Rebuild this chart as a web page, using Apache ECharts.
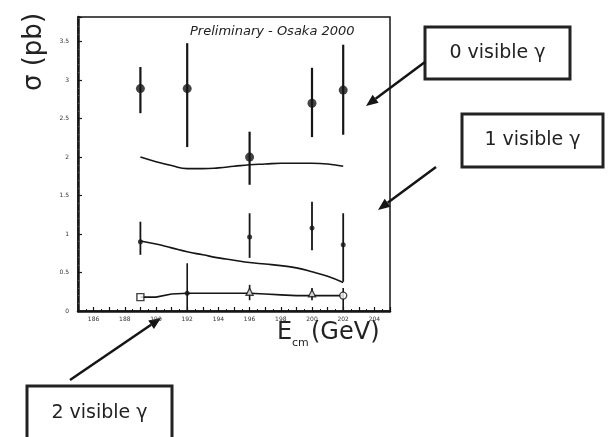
<!DOCTYPE html>
<html>
<head>
<meta charset="utf-8">
<script src="https://cdn.jsdelivr.net/npm/echarts@6/dist/echarts.min.js"></script>
<style>
  html, body { margin: 0; padding: 0; background: #fff; }
  #chart { width: 611px; height: 437px; }
</style>
</head>
<body>
<div id="chart"></div>
<script>
// Centre-of-mass energies (GeV) of the measurements
const energies = [189, 192, 196, 200, 202];

// 0 visible photon: cross section (pb) with lower / upper error ends
const zeroGamma     = [2.89, 2.89, 2.00, 2.70, 2.87];
const zeroGammaLow  = [2.57, 2.13, 1.64, 2.26, 2.29];
const zeroGammaHigh = [3.17, 3.48, 2.33, 3.16, 3.46];

// 1 visible photon
const oneGammaE    = [189, 196, 200, 202];
const oneGamma     = [0.90, 0.96, 1.08, 0.86];
const oneGammaLow  = [0.73, 0.69, 0.79, 0.38];
const oneGammaHigh = [1.16, 1.27, 1.42, 1.27];

// 2 visible photons
const twoGamma     = [0.18, 0.23, 0.25, 0.23, 0.20];
const twoGammaLow  = [0.18, 0.00, 0.14, 0.14, 0.00];
const twoGammaHigh = [0.18, 0.62, 0.34, 0.30, 0.30];

// Standard Model expectation curves
const curveE  = [189, 190, 191, 192, 193, 194, 195, 196, 197, 198, 199, 200, 201, 202];
const curve0  = [2.00, 1.94, 1.89, 1.85, 1.85, 1.86, 1.88, 1.90, 1.91, 1.92, 1.92, 1.92, 1.91, 1.88];
const curve1  = [0.91, 0.87, 0.82, 0.77, 0.73, 0.69, 0.66, 0.63, 0.61, 0.59, 0.56, 0.51, 0.45, 0.37];
const curve2  = [0.18, 0.18, 0.22, 0.23, 0.23, 0.23, 0.23, 0.23, 0.22, 0.21, 0.20, 0.20, 0.20, 0.20];

// Axis tick labels
const xTickLabels = [186, 188, 190, 192, 194, 196, 198, 200, 202, 204];
const yTickLabels = [0, 0.5, 1, 1.5, 2, 2.5, 3, 3.5];

// Marker shapes used for the 2-photon points
const twoGammaMarks = ['rect', 'circle', 'triangle', 'triangle', 'circle'];
const INK = '#151515';

function pairs(xs, ys) { return xs.map((x, i) => [x, ys[i]]); }
function bars(xs, lo, hi) { return xs.map((x, i) => [x, lo[i], hi[i]]); }

function errorSeries(data, width) {
  return {
    type: 'custom',
    data: data,
    z: 3,
    encode: { x: 0, y: [1, 2] },
    renderItem: function (params, api) {
      const a = api.coord([api.value(0), api.value(1)]);
      const b = api.coord([api.value(0), api.value(2)]);
      return {
        type: 'line',
        shape: { x1: a[0], y1: a[1], x2: b[0], y2: b[1] },
        style: { stroke: INK, lineWidth: width }
      };
    }
  };
}

function arrow(x1, y1, x2, y2) {
  const ang = Math.atan2(y2 - y1, x2 - x1);
  const len = 12, half = 5;
  const bx = x2 - len * Math.cos(ang), by = y2 - len * Math.sin(ang);
  const px = -Math.sin(ang) * half, py = Math.cos(ang) * half;
  return [
    { type: 'line', shape: { x1: x1, y1: y1, x2: bx, y2: by }, style: { stroke: INK, lineWidth: 2.5 } },
    { type: 'polygon', shape: { points: [[x2, y2], [bx + px, by + py], [bx - px, by - py]] }, style: { fill: INK } }
  ];
}

function labelBox(x, y, w, h, text) {
  return [
    { type: 'rect', shape: { x: x, y: y, width: w, height: h }, style: { fill: '#fff', stroke: '#222', lineWidth: 3 } },
    { type: 'text', x: x + w / 2, y: y + h / 2,
      style: { text: text, fill: '#222', font: '19px "DejaVu Sans"', textAlign: 'center', textVerticalAlign: 'middle' } }
  ];
}

const chart = echarts.init(document.getElementById('chart'), null, { renderer: 'canvas' });

const tinyLabel = { fontSize: 6, color: '#333', fontFamily: 'DejaVu Sans' };

chart.setOption({
  animation: false,
  backgroundColor: '#fff',
  grid: { left: 78, top: 17, right: 221, bottom: 126, show: true, borderColor: INK, borderWidth: 1.5, backgroundColor: 'transparent' },
  xAxis: {
    type: 'value', min: 185, max: 205, interval: 1,
    axisLine: { show: true, onZero: false, lineStyle: { color: INK, width: 2.5 } },
    axisTick: { show: true, inside: true, length: 4, lineStyle: { color: INK, width: 1.2 } },
    minorTick: { show: true, splitNumber: 2, length: 2, lineStyle: { color: INK } },
    axisLabel: Object.assign({ margin: 5, showMinLabel: true, showMaxLabel: true,
      formatter: v => (xTickLabels.indexOf(v) >= 0 ? String(v) : '') }, tinyLabel),
    splitLine: { show: false }
  },
  yAxis: {
    type: 'value', min: 0, max: 3.82, interval: 0.5,
    axisLine: { show: true, onZero: false, lineStyle: { color: INK, width: 2.5 } },
    axisTick: { show: true, inside: true, length: 4, lineStyle: { color: INK, width: 1.2 } },
    minorTick: { show: true, splitNumber: 5, length: 2, lineStyle: { color: '#555' } },
    axisLabel: Object.assign({ margin: 9,
      formatter: v => (yTickLabels.some(t => Math.abs(t - v) < 1e-6) ? String(v) : '') }, tinyLabel),
    splitLine: { show: false }
  },
  series: [
    { type: 'line', data: pairs(curveE, curve0), smooth: true, symbol: 'none', lineStyle: { color: INK, width: 1.6 } },
    { type: 'line', data: pairs(curveE, curve1), smooth: true, symbol: 'none', lineStyle: { color: INK, width: 1.6 } },
    { type: 'line', data: pairs(curveE, curve2), smooth: false, symbol: 'none', lineStyle: { color: INK, width: 1.6 } },

    errorSeries(bars(energies, zeroGammaLow, zeroGammaHigh), 2.2),
    errorSeries(bars(oneGammaE, oneGammaLow, oneGammaHigh), 1.8),
    errorSeries(bars(energies, twoGammaLow, twoGammaHigh), 1.6),

    { type: 'scatter', data: pairs(energies, zeroGamma), symbol: 'circle', symbolSize: 9, z: 4,
      itemStyle: { color: INK } },
    { type: 'scatter', data: pairs(oneGammaE, oneGamma), symbol: 'circle', symbolSize: 5, z: 4,
      itemStyle: { color: INK } },
    { type: 'scatter', data: pairs(energies, twoGamma).filter((_, i) => twoGammaMarks[i] !== 'circle' || i !== 1),
      symbol: (v, p) => twoGammaMarks[energies.indexOf(v[0])], symbolSize: 7, z: 4,
      itemStyle: { color: '#fff', borderColor: INK, borderWidth: 1.4 } },
    { type: 'scatter', data: pairs(energies, twoGamma).filter((_, i) => i === 1),
      symbol: 'circle', symbolSize: 5, z: 5, itemStyle: { color: INK } }
  ],
  graphic: [
    { type: 'text', x: 190, y: 32,
      style: { text: 'Preliminary - Osaka 2000', fill: '#222', font: 'italic 13px "DejaVu Sans"', textAlign: 'left', textVerticalAlign: 'middle' } },
    { type: 'text', x: 34, y: 52, rotation: Math.PI / 2,
      style: { text: 'σ (pb)', fill: '#222', font: '26px "DejaVu Sans"', textAlign: 'center', textVerticalAlign: 'middle' } },
    { type: 'text', x: 277, y: 345,
      style: { text: 'E', fill: '#222', font: '24px "DejaVu Sans"', textAlign: 'left', textVerticalAlign: 'bottom' } },
    { type: 'text', x: 292, y: 349,
      style: { text: 'cm', fill: '#222', font: '11px "DejaVu Sans"', textAlign: 'left', textVerticalAlign: 'bottom' } },
    { type: 'text', x: 311, y: 345,
      style: { text: '(GeV)', fill: '#222', font: '24px "DejaVu Sans"', textAlign: 'left', textVerticalAlign: 'bottom' } }
  ]
    .concat(labelBox(425, 27, 145, 52, '0 visible γ'))
    .concat(labelBox(462, 114, 141, 53, '1 visible γ'))
    .concat(labelBox(27, 386, 145, 54, '2 visible γ'))
    .concat(arrow(425, 62, 366, 106))
    .concat(arrow(436, 167, 378, 210))
    .concat(arrow(70, 380, 161, 318))
});
</script>
</body>
</html>
